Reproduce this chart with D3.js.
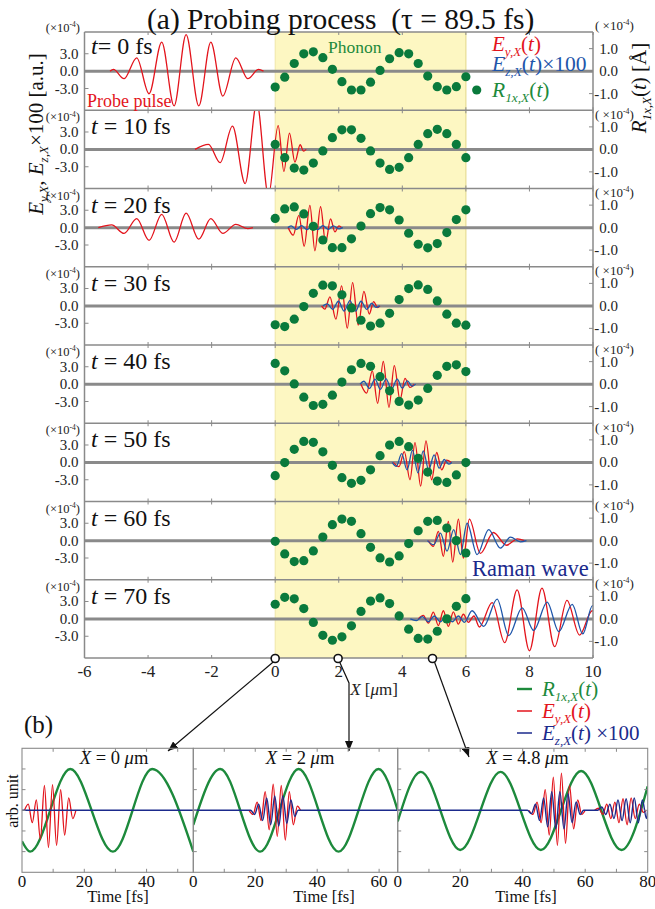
<!DOCTYPE html>
<html><head><meta charset="utf-8">
<script src="https://cdn.jsdelivr.net/npm/d3@7"></script>
<style>
body{margin:0;background:#fff}
svg{display:block;font-family:"Liberation Serif","Times New Roman",serif}
text{white-space:pre}
</style>
</head><body><svg id="c" width="655" height="909"></svg>
<script>
// ---------------- DATA ----------------
const timesFs = [0,10,20,30,40,50,60,70];
const xTicksA = [-6,-4,-2,0,2,4,6,8,10];
const leftTickVals = [3,0,-3];
const leftTickLabels = ["3.0","0.0","-3.0"];
const rightTickVals = [1,0,-1];
const rightTickLabels = ["1.0","0.0","-1.0"];
const phononX = [0,0.3,0.6,0.9,1.2,1.5,1.8,2.1,2.4,2.7,3.0,3.3,3.6,3.9,4.2,4.5,4.8,5.1,5.4,5.7,6.0];
const phonon0 = [-0.71,-0.27,0.34,0.77,0.86,0.6,0.08,-0.47,-0.84,-0.84,-0.49,0.03,0.55,0.82,0.77,0.34,-0.22,-0.69,-0.84,-0.69,-0.25];
const phonon1 = [0.22,-0.37,-0.83,-0.92,-0.61,-0.07,0.52,0.87,0.87,0.49,-0.07,-0.61,-0.89,-0.8,-0.37,0.22,0.7,0.89,0.7,0.22,-0.37];
const phonon2 = [0.41,0.83,0.92,0.61,0.06,-0.55,-0.89,-0.89,-0.5,0.07,0.62,0.89,0.79,0.34,-0.25,-0.74,-0.9,-0.71,-0.22,0.36,0.79];
const phonon3 = [-0.84,-0.92,-0.59,-0.03,0.56,0.92,0.89,0.49,-0.09,-0.64,-0.9,-0.77,-0.33,0.28,0.77,0.93,0.73,0.22,-0.37,-0.77,-0.86];
const phonon4 = [0.92,0.59,0.01,-0.58,-0.95,-0.9,-0.49,0.09,0.64,0.92,0.79,0.33,-0.3,-0.77,-0.93,-0.71,-0.19,0.39,0.79,0.86,0.56];
const phonon5 = [-0.59,-0.01,0.58,0.93,0.89,0.47,-0.13,-0.68,-0.93,-0.8,-0.33,0.3,0.77,0.93,0.7,0.18,-0.43,-0.83,-0.89,-0.56,-0.01];
const phonon6 = [-0.03,-0.59,-0.93,-0.89,-0.46,0.16,0.71,0.96,0.86,0.31,-0.3,-0.77,-0.95,-0.68,-0.13,0.44,0.86,0.9,0.56,0.0,-0.55];
const phonon7 = [0.65,0.96,0.89,0.46,-0.16,-0.73,-0.95,-0.8,-0.31,0.33,0.79,0.93,0.68,0.13,-0.46,-0.87,-0.9,-0.55,0.0,0.56,0.9];

// E_y (red) extrema [X um, value x1e-4], per panel, list of segments
const red0 = [[[-5.197,0],[-5.09,0.3],[-4.756,-1.3],[-4.357,2.3],[-3.969,-3.9],[-3.57,5.0],[-3.181,-6.0],[-2.803,6.3],[-2.404,-6.0],[-2.026,5.0],[-1.648,-4.3],[-1.239,2.3],[-0.861,-1.3],[-0.525,0.3],[-0.367,0]]];
const red1 = [[[-2.52,0],[-2.1,0.86],[-1.732,-2.3],[-1.345,4.0],[-0.945,-5.9],[-0.577,8],[-0.211,-8],[0.094,4.1],[0.274,-3.8],[0.45,2.8],[0.62,-2.2],[0.787,0.8],[0.891,-0.3],[0.976,0]]];
const red2 = [[[-5.565,0],[-5.144,0.46],[-4.756,-1.0],[-4.357,1.55],[-3.969,-2.2],[-3.57,2.3],[-3.181,-2.5],[-2.803,2.5],[-2.404,-2.0],[-2.026,1.55],[-1.648,-1.0],[-1.239,0.57],[-0.861,-0.17],[-0.7,0]],
              [[0.409,0],[0.567,-1.3],[0.745,2.1],[0.913,-3.2],[1.092,3.85],[1.249,-4.0],[1.428,3.6],[1.585,-2.6],[1.743,1.5],[1.879,-0.75],[2.005,0.3],[2.089,0]]];
const red3 = [[[1.459,0],[1.564,-0.57],[1.722,1.55],[1.911,-2.3],[2.089,3.45],[2.268,-3.85],[2.436,4.0],[2.614,-3.3],[2.793,2.5],[2.961,-1.4],[3.097,0.75],[3.223,-0.3],[3.297,0]]];
const red4 = [[[2.698,0],[2.877,-1.55],[3.055,2.3],[3.223,-3.3],[3.402,3.9],[3.58,-4.0],[3.748,3.2],[3.927,-2.7],[4.084,1.0],[4.241,-0.57],[4.378,0]]];
const red5 = [[[3.717,0],[3.895,-0.75],[4.063,1.84],[4.241,-3.0],[4.399,3.4],[4.577,-4.1],[4.745,3.7],[4.924,-3.0],[5.081,1.7],[5.239,-1.3],[5.396,0.4],[5.533,0]]];
const red6 = [[[4.819,0],[4.976,-1.0],[5.134,1.6],[5.291,-2.7],[5.449,3.3],[5.584,-3.7],[5.764,3.7],[5.921,-3.0],[6.11,3.7],[6.457,-2.2],[6.866,1.4],[7.276,-0.8],[7.622,0.3],[7.843,0]]];
const red7 = [[[4.504,0],[4.661,0.6],[4.819,-0.75],[4.976,1.15],[5.134,-1.15],[5.291,1.4],[5.449,-1.3],[5.606,1.2],[5.764,-0.9],[5.921,0.8],[6.079,-0.6],[6.252,0.5],[6.425,-1.4],[6.825,2.8],[7.222,-4.1],[7.613,5.0],[8.0,-5.5],[8.394,5.3],[8.794,-4.8],[9.181,3.2],[9.575,-2.8],[9.975,1.4],[10.36,-0.8],[10.71,0]]];
// E_z x100 (blue)
const blue0 = [];
const blue1 = [];
const blue2 = [[[0.4,0],[0.5,0.3],[0.67,-0.3],[0.83,0.35],[1.0,-0.35],[1.17,0.35],[1.34,-0.35],[1.5,0.35],[1.67,-0.3],[1.83,0.3],[2.0,-0.2],[2.13,0]]];
const blue3 = [[[1.5,0],[1.64,0.35],[1.81,-0.6],[1.99,0.8],[2.17,-0.9],[2.35,0.9],[2.53,-0.9],[2.7,0.8],[2.88,-0.6],[3.04,0.45],[3.17,-0.25],[3.29,0]]];
const blue4 = [[[2.67,0],[2.79,0.5],[2.97,-0.75],[3.14,0.85],[3.31,-0.9],[3.49,0.9],[3.66,-0.9],[3.84,0.85],[4.0,-0.7],[4.16,0.55],[4.31,-0.35],[4.42,0]]];
const blue5 = [[[3.68,0],[3.81,-0.7],[3.98,1.5],[4.15,-1.3],[4.32,2.1],[4.49,-1.8],[4.66,2.0],[4.83,-1.3],[5.0,1.3],[5.16,-1.0],[5.32,0.5],[5.46,-0.3],[5.56,0]]];
const blue6 = [[[4.787,0],[4.986,-0.7],[5.197,1.3],[5.408,-1.8],[5.616,1.9],[5.827,-2.4],[6.038,3.0],[6.353,-2.4],[6.718,1.9],[7.087,-1.3],[7.402,0.6],[7.717,-0.2],[7.906,0]]];
const blue7 = [[[4.252,0],[4.441,-0.3],[4.63,0.4],[4.819,-0.5],[5.008,0.5],[5.197,-0.5],[5.386,0.5],[5.575,-0.5],[5.764,0.5],[5.953,-0.6],[6.195,1.4],[6.561,-1.3],[6.983,3.4],[7.348,-2.9],[7.77,1.9],[8.135,-2.0],[8.557,2.9],[8.923,-2.2],[9.345,2.5],[9.679,-2.6],[9.984,2.3],[10.362,-2.0],[10.74,1.5]]];

const phononRows = [phonon0,phonon1,phonon2,phonon3,phonon4,phonon5,phonon6,phonon7];
const redRows = [red0,red1,red2,red3,red4,red5,red6,red7];
const blueRows = [blue0,blue1,blue2,blue3,blue4,blue5,blue6,blue7];

// panel (b): probe positions and time traces [t fs, arb]
const probeX = [0, 1.98, 4.95];
const probeLabels = ["0","2","4.8"];
const bDomains = [55, 66, 80];
const bTicks = [[0,20,40],[0,20,40,60],[0,20,40,60,80]];
const greenB0 = [[0,-0.75],[2.6,-1],[15.5,1],[29.2,-1],[41.8,1],[55,-1]];
const greenB1 = [[0,-0.35],[8.7,1],[21.6,-1],[34,1],[46.9,-1],[59.8,1],[66,0]];
const greenB2 = [[0,-0.27],[7.4,0.93],[20,-0.96],[32.9,0.93],[45.8,-0.96],[58.7,0.95],[71.6,-0.96],[80,0.58]];
const redB0 = [[[0.8,0],[2.0,0.15],[3.3,-0.3],[4.6,0.25],[5.9,-0.7],[7.2,0.6],[8.5,-0.9],[9.8,0.62],[11.1,-0.85],[12.4,0.5],[13.7,-0.6],[15.0,0.3],[16.3,-0.2],[17.3,0]]];
const redB1 = [[[18.0,0],[19.3,-0.1],[20.6,0.2],[21.9,-0.25],[23.2,0.45],[24.5,-0.47],[25.8,0.63],[27.1,-0.63],[28.4,0.6],[29.7,-0.72],[31.0,0.45],[32.3,-0.35],[33.6,0.1],[34.6,0]]];
const redB2 = [[[42,0],[43.3,-0.1],[44.6,0.2],[45.9,-0.3],[47.2,0.5],[48.5,-0.6],[49.8,0.8],[51.1,-0.85],[52.4,0.9],[53.7,-0.8],[55.0,0.6],[56.3,-0.45],[57.6,0.25],[58.9,-0.1],[60,0]],
               [[63,0],[64.3,0.05],[65.6,-0.1],[66.9,0.15],[68.2,-0.2],[69.5,0.2],[70.8,-0.3],[72.1,0.28],[73.4,-0.35],[74.7,0.3],[76,-0.2],[77.3,0.15],[78.6,-0.05],[79.5,0]]];
const blueB0 = [[[0,0],[55,0]]];
const blueB1 = [[[0,0],[18.5,0],[19.8,-0.1],[21.1,0.15],[22.4,-0.25],[23.7,0.3],[25.0,-0.35],[26.3,0.35],[27.6,-0.38],[28.9,0.35],[30.2,-0.32],[31.5,0.25],[32.8,-0.15],[33.8,0],[66,0]]];
const blueB2 = [[[0,0],[41.5,0],[42.8,-0.08],[44.1,0.15],[45.4,-0.25],[46.7,0.3],[48,-0.4],[49.3,0.45],[50.6,-0.45],[51.9,0.45],[53.2,-0.45],[54.5,0.4],[55.8,-0.3],[57.1,0.2],[58.4,-0.1],[59.5,0],[64,0],[65.3,0.08],[66.6,-0.1],[67.9,0.15],[69.2,-0.2],[70.5,0.25],[71.8,-0.25],[73.1,0.28],[74.4,-0.3],[75.7,0.3],[77,-0.3],[78.3,0.25],[79.6,-0.2],[80,0]]];
const greenB = [greenB0,greenB1,greenB2];
const redB = [redB0,redB1,redB2];
const blueB = [blueB0,blueB1,blueB2];

// ---------------- STYLE ----------------
const RED="#e3141c", BLUE="#1f56aa", NAVY="#1b2a8c", GREEN="#1d8a3c", DOT="#0a7a3c", GRID="#8a8a8a";
const svg = d3.select("#c");
const defs = svg.append("defs");

function rich(sel, x, y, parts, fs, color, anchor, extra){
  const t = sel.append("text").attr("x",x).attr("y",y).attr("font-size",fs).attr("fill",color).attr("text-anchor",anchor||"start");
  if(extra) t.attr("transform",extra);
  let shift=0;
  parts.forEach(p=>{
    const ts = t.append("tspan").text(p.t);
    if(p.i) ts.attr("font-style","italic");
    const target = p.sub ? fs*0.25 : (p.sup ? -fs*0.38 : 0);
    const dy = target-shift; if(dy) ts.attr("dy",dy); shift=target;
    if(p.sub||p.sup) ts.attr("font-size", fs*(p.sub?0.62:0.6));
  });
  return t;
}

// ---------------- PANEL (a) ----------------
const L=84.5, R=593, TOPA=32, rowH=78.25, nRows=8, BOTA=TOPA+rowH*nRows;
const x = d3.scaleLinear().domain([-6,10]).range([L,R]);
const gA = svg.append("g");

gA.append("rect").attr("x",x(0)).attr("y",TOPA).attr("width",x(6)-x(0)).attr("height",BOTA-TOPA).attr("fill","#fdf7c2");
gA.append("line").attr("x1",x(6)).attr("x2",x(6)).attr("y1",TOPA).attr("y2",BOTA).attr("stroke","#e7dd94").attr("stroke-width",1.2);
gA.append("line").attr("x1",x(0)).attr("x2",x(0)).attr("y1",TOPA).attr("y2",BOTA).attr("stroke","#efe6a8").attr("stroke-width",1);

const lineGen = (xs, ys) => d3.line().x(d=>xs(d[0])).y(d=>ys(d[1])).curve(d3.curveMonotoneX);

for(let r=0;r<nRows;r++){
  const t0 = TOPA + r*rowH;
  const yL = d3.scaleLinear().domain([-6.75,6.75]).range([t0+rowH,t0]);
  const yR = d3.scaleLinear().domain([-1.74,1.74]).range([t0+rowH,t0]);
  const g = gA.append("g");
  defs.append("clipPath").attr("id","clipA"+r).append("rect").attr("x",L).attr("y",t0).attr("width",R-L).attr("height",rowH);
  g.append("line").attr("x1",L).attr("x2",R).attr("y1",yL(0)).attr("y2",yL(0)).attr("stroke",GRID).attr("stroke-width",3);
  const gc = g.append("g").attr("clip-path","url(#clipA"+r+")");
  redRows[r].forEach(seg=>gc.append("path").attr("d",lineGen(x,yL)(seg)).attr("fill","none").attr("stroke",RED).attr("stroke-width",1.3));
  blueRows[r].forEach(seg=>gc.append("path").attr("d",lineGen(x,yL)(seg)).attr("fill","none").attr("stroke",BLUE).attr("stroke-width",1.3));
  gc.selectAll("circle.ph").data(phononRows[r]).join("circle").attr("class","ph")
    .attr("cx",(d,i)=>x(phononX[i])).attr("cy",d=>yR(d)).attr("r",4.6).attr("fill",DOT);
  leftTickVals.forEach((v,i)=>{
    g.append("line").attr("x1",L).attr("x2",L+4).attr("y1",yL(v)).attr("y2",yL(v)).attr("stroke",GRID);
    g.append("text").attr("x",78.5).attr("y",yL(v)+5).attr("text-anchor","end").attr("font-size",15).attr("fill","#222").text(leftTickLabels[i]);
  });
  rightTickVals.forEach((v,i)=>{
    g.append("line").attr("x1",R-4).attr("x2",R).attr("y1",yR(v)).attr("y2",yR(v)).attr("stroke",GRID);
    g.append("text").attr("x",618).attr("y",yR(v)+5).attr("text-anchor","end").attr("font-size",15).attr("fill","#222").text(rightTickLabels[i]);
  });
  rich(g, 80, r===0 ? 32 : t0+11, [{t:"(×10"},{t:"-4",sup:true},{t:")"}], 12.5, "#222", "end");
  rich(g, 595, r===0 ? 30 : t0+8.5, [{t:"( ×10"},{t:"-4",sup:true},{t:")"}], 13, "#222", "start");
  rich(g, 91, r===0 ? t0+22 : t0+24, [{t:"t",i:true},{t:(r===0?"= ":" = ")+timesFs[r]+" fs"}], 24, "#111", "start");
}
for(let r=0;r<=nRows;r++){
  const yy = TOPA + r*rowH;
  gA.append("line").attr("x1",L).attr("x2",R).attr("y1",yy).attr("y2",yy).attr("stroke",GRID).attr("stroke-width",1.5);
  xTicksA.forEach(v=>{
    gA.append("line").attr("x1",x(v)).attr("x2",x(v)).attr("y1",yy-(r===0?0:3)).attr("y2",yy+(r===nRows?0:3)).attr("stroke",GRID).attr("stroke-width",1);
  });
}
gA.append("line").attr("x1",L).attr("x2",L).attr("y1",TOPA).attr("y2",BOTA).attr("stroke",GRID).attr("stroke-width",1.5);
gA.append("line").attr("x1",R).attr("x2",R).attr("y1",TOPA).attr("y2",BOTA).attr("stroke",GRID).attr("stroke-width",1.5);
xTicksA.forEach(v=>{
  gA.append("text").attr("x",x(v)).attr("y",677).attr("text-anchor","middle").attr("font-size",17).attr("fill","#222").text(v);
});
rich(gA, 374, 695, [{t:"X",i:true},{t:" ["},{t:"μ",i:true},{t:"m]"}], 17, "#222", "middle");

svg.append("text").attr("x",147).attr("y",29).attr("font-size",29.5).attr("fill","#111").text("(a) Probing process  (τ = 89.5 fs)");
svg.append("text").attr("x",328).attr("y",53).attr("font-size",17.5).attr("fill",GREEN).text("Phonon");
svg.append("text").attr("x",87).attr("y",107).attr("font-size",18).attr("fill",RED).text("Probe pulse");
svg.append("text").attr("x",472).attr("y",576).attr("font-size",22.5).attr("fill",NAVY).text("Raman wave");
rich(svg, 492, 51, [{t:"E",i:true},{t:"y,X",sub:true,i:true},{t:"("},{t:"t",i:true},{t:")"}], 21, RED, "start");
rich(svg, 492, 71, [{t:"E",i:true},{t:"z,X",sub:true,i:true},{t:"("},{t:"t",i:true},{t:")×100"}], 21.5, BLUE, "start");
svg.append("circle").attr("cx",476.7).attr("cy",90).attr("r",4.6).attr("fill",DOT);
rich(svg, 492, 97, [{t:"R",i:true},{t:"1x,X",sub:true,i:true},{t:"("},{t:"t",i:true},{t:")"}], 21.5, GREEN, "start");
rich(svg, 0, 0, [{t:"E",i:true},{t:"y,X",sub:true,i:true},{t:", "},{t:"E",i:true},{t:"z,X",sub:true,i:true},{t:"×100 [a.u.]"}], 21, "#111", "middle", "translate(43,134) rotate(-90)");
rich(svg, 0, 0, [{t:"R",i:true},{t:"1x,X",sub:true,i:true},{t:"("},{t:"t",i:true},{t:") [Å]"}], 21, "#111", "middle", "translate(646,88) rotate(-90)");

const marker = defs.append("marker").attr("id","arr").attr("viewBox","0 0 10 8").attr("refX",10).attr("refY",4)
  .attr("markerWidth",10).attr("markerHeight",8).attr("markerUnits","userSpaceOnUse").attr("orient","auto");
marker.append("path").attr("d","M0,0L10,4L0,8z").attr("fill","#111");
const arrowPaths = [
  [[x(probeX[0])-2,662],[168,751]],
  [[x(probeX[1])+1.5,662],[349,683],[349,751]],
  [[x(probeX[2])+2,662],[469,757]]
];
arrowPaths.forEach(p=>svg.append("path").attr("d",d3.line()(p)).attr("fill","none").attr("stroke","#111").attr("stroke-width",1.2).attr("marker-end","url(#arr)"));
probeX.forEach(v=>svg.append("circle").attr("cx",x(v)).attr("cy",658.5).attr("r",4).attr("fill","#fff").attr("stroke","#111").attr("stroke-width",1.6));

// ---------------- PANEL (b) ----------------
svg.append("text").attr("x",24).attr("y",733).attr("font-size",25).attr("fill","#111").text("(b)");
const bTop=748.3, bBot=872.3;
const bEdges = [22,193.3,397.7,647.7];
const yB = d3.scaleLinear().domain([-1.5,1.5]).range([bBot,bTop]);
const titleX = [114,300,527.5];
const timeLabelX = [118,324,526];
for(let k=0;k<3;k++){
  const xb = d3.scaleLinear().domain([0,bDomains[k]]).range([bEdges[k],bEdges[k+1]]);
  const g = svg.append("g");
  defs.append("clipPath").attr("id","clipB"+k).append("rect").attr("x",bEdges[k]).attr("y",bTop).attr("width",bEdges[k+1]-bEdges[k]).attr("height",bBot-bTop);
  const gc = g.append("g").attr("clip-path","url(#clipB"+k+")");
  gc.append("path").attr("d",lineGen(xb,yB)(greenB[k])).attr("fill","none").attr("stroke",GREEN).attr("stroke-width",2.4);
  redB[k].forEach(seg=>gc.append("path").attr("d",lineGen(xb,yB)(seg)).attr("fill","none").attr("stroke",RED).attr("stroke-width",1.3));
  blueB[k].forEach(seg=>gc.append("path").attr("d",lineGen(xb,yB)(seg)).attr("fill","none").attr("stroke",NAVY).attr("stroke-width",1.4));
  g.append("rect").attr("x",bEdges[k]).attr("y",bTop).attr("width",bEdges[k+1]-bEdges[k]).attr("height",bBot-bTop).attr("fill","none").attr("stroke",GRID).attr("stroke-width",1.1);
  d3.range(10,bDomains[k],10).forEach(v=>{
    g.append("line").attr("x1",xb(v)).attr("x2",xb(v)).attr("y1",bBot).attr("y2",bBot-3.5).attr("stroke",GRID);
    g.append("line").attr("x1",xb(v)).attr("x2",xb(v)).attr("y1",bTop).attr("y2",bTop+3.5).attr("stroke",GRID);
  });
  [-1,-0.5,0,0.5,1].forEach(v=>{
    g.append("line").attr("x1",bEdges[k]).attr("x2",bEdges[k]+3.5).attr("y1",yB(v)).attr("y2",yB(v)).attr("stroke",GRID);
    if(k===2) g.append("line").attr("x1",bEdges[3]-3.5).attr("x2",bEdges[3]).attr("y1",yB(v)).attr("y2",yB(v)).attr("stroke",GRID);
  });
  bTicks[k].forEach(v=>g.append("text").attr("x",xb(v)).attr("y",887).attr("text-anchor","middle").attr("font-size",17).attr("fill","#111").text(v));
  g.append("text").attr("x",timeLabelX[k]).attr("y",902).attr("text-anchor","middle").attr("font-size",16.5).attr("fill","#111").text("Time [fs]");
  rich(g, titleX[k], 764, [{t:"X",i:true},{t:" = "+probeLabels[k]+" "},{t:"μ",i:true},{t:"m"}], 18.5, "#111", "middle");
}
svg.append("text").attr("transform","translate(18,801) rotate(-90)").attr("text-anchor","middle").attr("font-size",16).attr("fill","#111").text("arb. unit");
const legB = [[GREEN,689,[{t:"R",i:true},{t:"1x,X",sub:true,i:true},{t:"("},{t:"t",i:true},{t:")"}]],
              [RED,711,[{t:"E",i:true},{t:"y,X",sub:true,i:true},{t:"("},{t:"t",i:true},{t:")"}]],
              [NAVY,733,[{t:"E",i:true},{t:"z,X",sub:true,i:true},{t:"("},{t:"t",i:true},{t:") ×100"}]]];
legB.forEach(l=>{
  svg.append("line").attr("x1",517).attr("x2",532).attr("y1",l[1]).attr("y2",l[1]).attr("stroke",l[0]).attr("stroke-width",l[0]===GREEN?2.4:1.5);
  rich(svg, 542, l[1]+7, l[2], 21, l[0], "start");
});
</script>
</body></html>
